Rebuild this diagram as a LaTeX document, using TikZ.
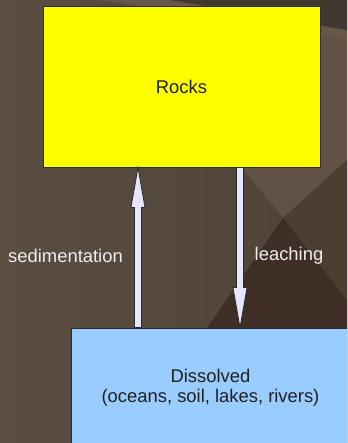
\documentclass[tikz,border=0pt]{standalone}
\usepackage{fontspec}
\setmainfont{Liberation Sans}
\usetikzlibrary{calc}
\definecolor{bgleft}{HTML}{5A4D42}
\definecolor{bgright}{HTML}{4F4237}
\definecolor{bgdark}{HTML}{3F2E26}
\definecolor{bgmid}{HTML}{4D3E34}
\definecolor{bglight}{HTML}{625245}
\definecolor{bgtop}{HTML}{43382F}
\definecolor{bgband}{HTML}{675749}
\definecolor{rockfill}{HTML}{FFFF00}
\definecolor{dissfill}{HTML}{99CCFF}
\definecolor{arrfill}{HTML}{E6E6FF}
\definecolor{edge}{HTML}{2B2B2B}
\definecolor{labtext}{HTML}{EEEEEE}
\tikzset{
  boxnode/.style={draw=edge, line width=0.9bp, inner sep=0pt, align=center,
    font=\fontsize{18.4bp}{20bp}\selectfont, text=black!88},
  labelnode/.style={anchor=base, inner sep=0pt, text=labtext,
    font=\fontsize{18.4bp}{20bp}\selectfont},
  arrowline/.style={fill=arrfill, draw=edge, line width=0.8bp, line join=miter}
}
\newcommand\fatarrow[2]{%
  \path[arrowline] let \p1=(#1), \p2=(#2), \n1={sign(\y2-\y1)} in
    (\x1-3.5bp,\y1) -- (\x1-3.5bp,\y2-\n1*40bp) -- (\x1-7bp,\y2-\n1*40bp)
    -- (\x2,\y2) -- (\x1+7bp,\y2-\n1*40bp) -- (\x1+3.5bp,\y2-\n1*40bp)
    -- (\x1+3.5bp,\y1) -- cycle;}
\begin{document}
\begin{tikzpicture}[x=1bp, y=-1bp]
\clip (0,0) rectangle (347,443);
% background
\shade[left color=bgleft, right color=bgright] (0,0) rectangle (347,443);
\fill[bgband] (100,0) -- (170,0) -- (347,30) -- (347,40) -- cycle;
\fill[bgtop] (170,0) -- (347,0) -- (347,30) -- cycle;
\fill[bglight] (180,12) -- (347,40) -- (347,160) -- (283,218) -- (240,165) -- cycle;
\fill[bgmid] (283,218) -- (347,160) -- (347,300) -- cycle;
\fill[bgdark] (283,218) -- (347,300) -- (347,443) -- (207,443) -- (207,328) -- cycle;
% boxes
\node[boxnode, fill=rockfill, minimum width=277bp, minimum height=160.5bp]
  (rocks) at (181.5,86.75) {Rocks};
\node[boxnode, fill=dissfill, minimum width=278bp, minimum height=120bp]
  (diss) at (210.5,388) {Dissolved\\(oceans, soil, lakes, rivers)};
% arrow columns
\coordinate (colup) at (138,0);
\coordinate (coldown) at (240,0);
\fatarrow{diss.north -| colup}{rocks.south -| colup}
\fatarrow{rocks.south -| coldown}{diss.north -| coldown}
% labels
\node[labelnode] (sed) at (65.5,262.3) {sedimentation};
\node[labelnode] (leach) at (289,260.8) {leaching};
\end{tikzpicture}
\end{document}
